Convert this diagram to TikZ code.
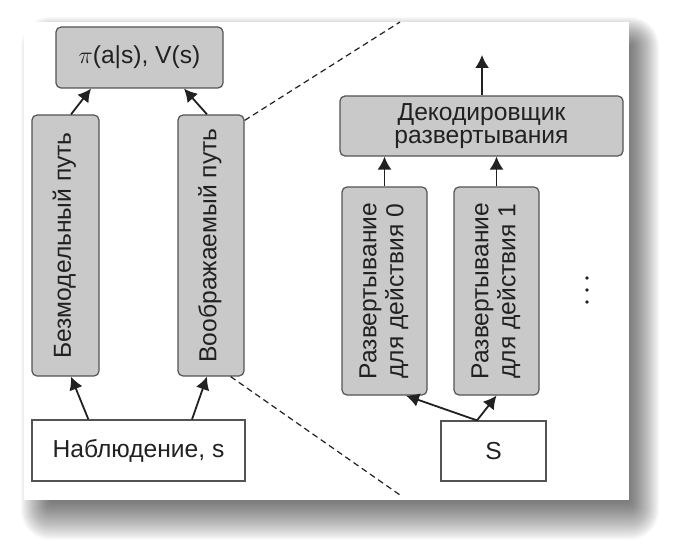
\documentclass[tikz,border=0pt]{standalone}
\usepackage{fontspec}
\setmainfont{Liberation Sans}
\usepackage{graphicx}
\usepackage{tikz}
\usetikzlibrary{arrows.meta}
\usetikzlibrary{positioning}
\definecolor{mgray}{rgb}{0.79, 0.79, 0.79}
\definecolor{mline}{rgb}{0.33, 0.33, 0.33}
\definecolor{mtext}{rgb}{0.13, 0.13, 0.13}
\tikzset{>={Latex[length=6.5pt, width=7pt]}}
\tikzset{blok/.style = {draw=mline, fill=mgray, rounded corners=2.5pt, line width=0.6pt,
                        inner sep=0, text=mtext, font=\fontsize{12.3}{11.5}\selectfont}}
\tikzset{whitebox/.style = {blok, fill=white, rounded corners=0}}
\tikzset{link/.style = {draw=mtext, line width=0.9pt}}
\tikzset{zoomline/.style = {draw=mtext, line width=0.6pt, dash pattern=on 3pt off 2pt}}
\tikzset{dotmark/.style = {fill=mtext, circle, inner sep=0, minimum size=1.8pt}}
\newcommand{\vtext}[1]{\rotatebox{90}{\fontsize{12.3}{13.5}\selectfont\begin{tabular}{@{}c@{}}#1\end{tabular}}}

\begin{document}
\begin{tikzpicture}[x=0.5pt, y=-0.5pt]
    \useasboundingbox (0, 0) rectangle (678, 545);

    % panel with soft shadow
    \foreach \k in {0,...,29}
      \fill [black, opacity=0.022, rounded corners={0.5pt*\k+0.1pt}]
        (50-\k, 46-\k) rectangle (630+\k, {502+1.3*\k});
    \fill [white] (24, 22) rectangle (629, 500);

    % left part
    \node [blok, minimum width=83.5pt, minimum height=30.5pt] (pol) at (139.5, 57.5) {$\pi$(a|s), V(s)};
    \node [blok, minimum width=33.5pt, minimum height=130.5pt] (free) at (65.5, 245.5) {\vtext{Безмодельный путь}};
    \node [blok, minimum width=33pt, minimum height=130.5pt] (imag) at (211, 245.5) {\vtext{Воображаемый путь}};
    \node [whitebox, minimum width=106.5pt, minimum height=30.5pt] (obs) at (138.5, 450.5) {Наблюдение, s};

    \draw [link, ->] ([xshift=28.5pt]obs.north west) -- ([xshift=2.75pt]free.south);
    \draw [link, ->] ([xshift=26.75pt]obs.north) -- ([xshift=-2pt]imag.south);
    \draw [link, ->] ([xshift=2.75pt]free.north) -- ([xshift=-24.25pt]pol.south);
    \draw [link, ->] ([xshift=-2pt]imag.north) -- ([xshift=22.25pt]pol.south);

    % zoom lines
    \coordinate (zoomT) at (400, 22);
    \coordinate (zoomB) at (400, 495);
    \draw [zoomline] ([yshift=-3pt]imag.north east) -- (zoomT);
    \draw [zoomline] ([xshift=-7pt]imag.south east) -- (zoomB);

    % right part
    \node [blok, align=center, minimum width=141.5pt, minimum height=30pt] (dec) at (481.5, 126) {Декодировщик\\развертывания};
    \node [blok, minimum width=42.5pt, minimum height=104pt] (roll0) at (384.5, 291) {\vtext{Развертывание\\для действия 0}};
    \node [blok, minimum width=42.5pt, minimum height=104pt] (roll1) at (496.5, 291) {\vtext{Развертывание\\для действия 1}};
    \node [whitebox, minimum width=52.5pt, minimum height=30pt] (st) at (493.5, 451) {S};
    \foreach \y in {278, 290, 302}
      \node [dotmark] (dot\y) at (587, \y) {};

    \coordinate (out) at (482, 55);
    \draw [link, ->] ([xshift=0.25pt]dec.north) -- (out);
    \draw [link, ->] (roll0.north) -- (roll0.north |- dec.south);
    \draw [link, ->] (roll1.north) -- (roll1.north |- dec.south);
    \draw [link, ->] ([xshift=-8.25pt]st.north) -- ([xshift=10.75pt]roll0.south);
    \draw [link, ->] ([xshift=-8.25pt]st.north) -- (roll1.south);
  \end{tikzpicture}
\end{document}
